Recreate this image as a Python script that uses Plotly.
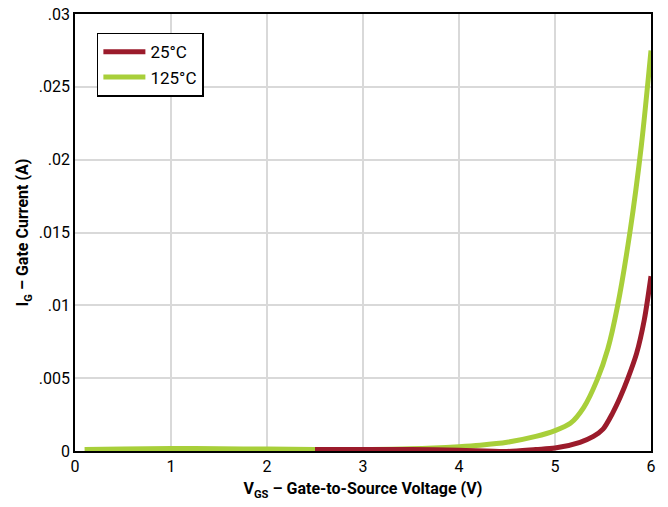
import plotly.graph_objects as go

# 25°C series
v_25 = [2.5, 3.0, 3.5, 4.0, 4.5, 4.8, 5.0, 5.26, 5.4, 5.5, 5.6, 5.68, 5.76, 5.85, 5.93, 6.0]
i_25 = [0.0001, 0.0001, 0.0001, 0.00005, -0.00003, 0.0001, 0.0002, 0.0006, 0.001, 0.0015,
        0.0026, 0.0037, 0.005, 0.0067, 0.009, 0.012]

# 125°C series
v_125 = [0.1, 0.5, 1.0, 1.5, 2.0, 2.5, 3.0, 3.5, 4.0, 4.22, 4.5, 4.8, 5.0, 5.16, 5.3, 5.44,
         5.55, 5.65, 5.78, 5.9, 6.0]
i_125 = [0.0001, 0.00014, 0.00017, 0.00016, 0.00013, 0.0001, 0.0001, 0.00015, 0.0003, 0.0004,
         0.0006, 0.001, 0.0014, 0.0019, 0.003, 0.0049, 0.007, 0.0099, 0.015, 0.021, 0.0275]

x_ticks = [0, 1, 2, 3, 4, 5, 6]
y_ticks = [0, 0.005, 0.01, 0.015, 0.02, 0.025, 0.03]
y_tick_text = ["0", ".005", ".01", ".015", ".02", ".025", ".03"]

FONT = "Roboto, Liberation Sans, sans-serif"

fig = go.Figure()
# green drawn first so the red curve sits on top where they overlap
fig.add_trace(go.Scatter(x=v_125, y=i_125, mode="lines", name="125°C", legendrank=2,
                         line=dict(color="#a8cf3a", width=5, shape="spline", smoothing=0.8)))
fig.add_trace(go.Scatter(x=v_25, y=i_25, mode="lines", name="25°C", legendrank=1,
                         line=dict(color="#9b1b2b", width=5, shape="spline", smoothing=0.8)))

axis_common = dict(showline=True, linecolor="black", linewidth=1.5, mirror=True,
                   showgrid=True, gridcolor="#d9d9d9", gridwidth=1.5, automargin=False,
                   ticklabeloverflow="allow",
                   zeroline=False, ticks="", tickfont=dict(family=FONT, size=16, color="black"))

fig.update_xaxes(range=[0, 6], tickvals=x_ticks,
                 title=dict(text="<b>V<sub>GS</sub> – Gate-to-Source Voltage (V)</b>",
                            font=dict(family=FONT, size=16, color="black"), standoff=8),
                 **axis_common)
fig.update_yaxes(range=[0, 0.03], tickvals=y_ticks, ticktext=y_tick_text,
                 title=dict(text="<b>I<sub>G</sub> – Gate Current (A)</b>",
                            font=dict(family=FONT, size=16, color="black"), standoff=6),
                 **axis_common)

fig.update_layout(
    width=668, height=507,
    margin=dict(l=75, r=17, t=14, b=56),
    plot_bgcolor="white", paper_bgcolor="white",
    font=dict(family=FONT, size=16, color="black"),
    legend=dict(x=0.038, y=0.957, xanchor="left", yanchor="top",
                bgcolor="white", bordercolor="black", borderwidth=1.5,
                font=dict(family=FONT, size=17, color="black"),
                itemwidth=42, tracegroupgap=0),
)

fig.write_html("out.html", config={"displayModeBar": False},
               post_script="document.body.style.margin='0';")
